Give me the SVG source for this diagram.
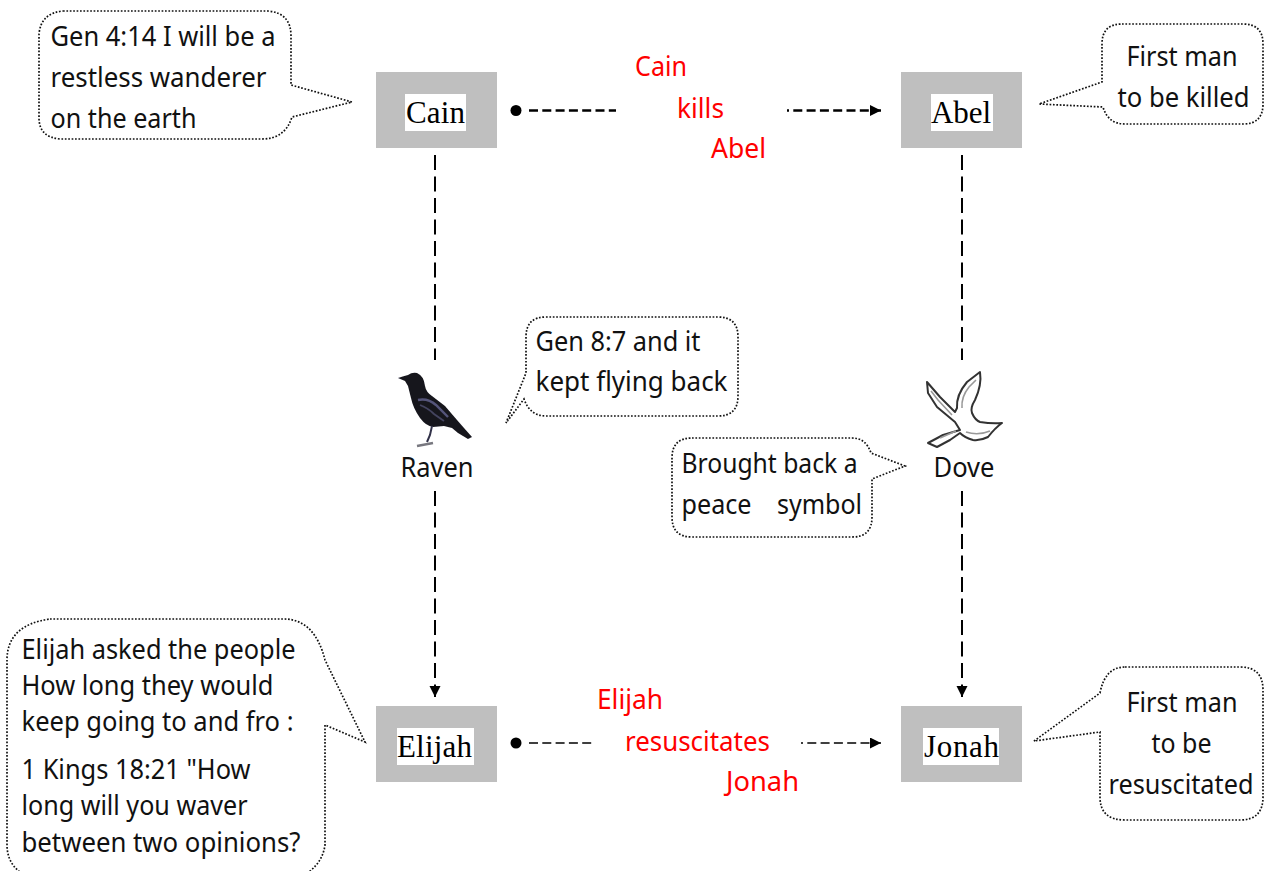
<svg xmlns="http://www.w3.org/2000/svg" width="1264" height="871" viewBox="0 0 1264 871">
<style>
.bg{fill:#fff}
.box{fill:#bfbfbf}
.lab{fill:#fff}
.ser{font-family:"Liberation Serif",serif;font-size:31px;fill:#000}
.t{font-family:"Noto Sans","Liberation Sans",sans-serif;font-size:27px;fill:#111}
.r{fill:#f00}
.bub{fill:#fff;stroke:#111;stroke-width:1.7;stroke-dasharray:1.7 1.7}
.c1{fill:none;stroke:#000;stroke-width:2.4;stroke-dasharray:9 4.3}
.c2{fill:none;stroke:#000;stroke-width:1.6;stroke-dasharray:9 4.3}
.cv{fill:none;stroke:#000;stroke-width:2;stroke-dasharray:15 6.5}
</style>
<defs>
<marker id="a" markerUnits="userSpaceOnUse" markerWidth="12" markerHeight="12" refX="11" refY="5.5" orient="auto"><path d="M0 0L11 5.5L0 11Z" fill="#000"/></marker>
<filter id="soft" x="-10%" y="-10%" width="120%" height="120%"><feGaussianBlur stdDeviation="0.5"/></filter>
</defs>
<rect class="bg" width="1264" height="871"/>
<g id="connectors">
<circle cx="516" cy="110.5" r="5.5"/>
<path class="c1" d="M529 110.5H616"/>
<path class="c1" d="M787 110.5H881" marker-end="url(#a)" stroke-dashoffset="7"/>
<circle cx="516" cy="743" r="5.5"/>
<path class="c2" d="M529 743H593"/>
<path class="c2" d="M801 743H881" marker-end="url(#a)" stroke-dashoffset="7"/>
<path class="cv" d="M435 155V360"/>
<path class="cv" d="M435 491V697" marker-end="url(#a)"/>
<path class="cv" d="M962 155V360"/>
<path class="cv" d="M962 491V697" marker-end="url(#a)"/>
</g>
<g id="cain"><rect class="box" x="376" y="72" width="121" height="76"/><rect class="lab" x="405" y="94" width="61" height="37"/><text class="ser" x="406" y="123" textLength="59">Cain</text></g>
<g id="abel"><rect class="box" x="901" y="72" width="121" height="76"/><rect class="lab" x="931" y="94" width="62" height="37"/><text class="ser" x="931" y="123" textLength="60">Abel</text></g>
<g id="elijah"><rect class="box" x="376" y="706" width="121" height="76"/><rect class="lab" x="397" y="728" width="77" height="37"/><text class="ser" x="397" y="757" textLength="75">Elijah</text></g>
<g id="jonah"><rect class="box" x="901" y="706" width="121" height="76"/><rect class="lab" x="923" y="728" width="76" height="37"/><text class="ser" x="924" y="757" textLength="75">Jonah</text></g>
<g id="raven">
<g filter="url(#soft)">
<path fill="#17171f" d="M398 378Q404 376 408 375Q412 372 417 373Q424 376 425 386Q426 392 432 396L445 406L457 420L464 428L472 437L468 439L458 433L452 428L444 426L433 427Q426 426 420 418Q413 408 411 398L408 386L405 381Z"/>
<path fill="none" stroke="#55557a" stroke-width="2.4" d="M418 400Q428 398 436 405L448 417"/>
<path fill="none" stroke="#44445f" stroke-width="1.8" d="M420 405Q428 408 434 414L444 421"/>
<path fill="none" stroke="#33334a" stroke-width="2" d="M432 426L430 435L427 442"/>
<path fill="none" stroke="#77777f" stroke-width="2.4" d="M417 446L433 443"/>
</g>
<text class="t" x="400.500" y="476.500" textLength="73" lengthAdjust="spacingAndGlyphs">Raven</text>
</g>
<g id="dove">
<g filter="url(#soft)">
<path fill="#fff" stroke="#333" stroke-width="2" stroke-linejoin="round" d="M957 408Q956 395 967 382L980 372Q982 385 975 400Q970 408 972 413Q975 420 980 422Q992 424 1002 423Q995 428 988 437Q980 441 973 440Q965 438 960 433L950 440L937 447L928 443L943 435L960 430L955 422L937 407L928 393L927 382L940 397L955 412Z"/>
<path fill="none" stroke="#999" stroke-width="1.6" d="M962 408Q961 397 969 387L976 380M952 415L938 400L931 391M956 431L940 438M966 432Q978 436 990 431"/>
</g>
<text class="t" x="933.500" y="476.500" textLength="61" lengthAdjust="spacingAndGlyphs">Dove</text>
</g>
<g id="note-cain">
<path class="bub" d="M63 11H268Q291 13 291 36V85L352 102L292 117Q285 139 262 139H60Q39 137 39 118V34Q41 13 63 11Z"/>
<text class="t" x="50.500" y="46" textLength="225" lengthAdjust="spacingAndGlyphs">Gen 4:14 I will be a</text>
<text class="t" x="50.500" y="87" textLength="216" lengthAdjust="spacingAndGlyphs">restless wanderer</text>
<text class="t" x="50.500" y="128" textLength="146" lengthAdjust="spacingAndGlyphs">on the earth</text>
</g>
<g id="note-abel">
<path class="bub" d="M1122 24H1243Q1263 24 1263 44V104Q1263 124 1243 124H1125Q1108 124 1103 107L1039 104L1102 82V44Q1102 24 1122 24Z"/>
<text class="t" x="1126.500" y="65.500" textLength="111" lengthAdjust="spacingAndGlyphs">First man</text>
<text class="t" x="1117.500" y="106.500" textLength="132" lengthAdjust="spacingAndGlyphs">to be killed</text>
</g>
<g id="note-raven">
<path class="bub" d="M546 317H718Q738 317 738 337V396Q738 416 718 416H546Q530 416 524 399L506 423L526 373V337Q526 317 546 317Z"/>
<text class="t" x="535.500" y="350.500" textLength="165" lengthAdjust="spacingAndGlyphs">Gen 8:7 and it</text>
<text class="t" x="535.500" y="390.500" textLength="192" lengthAdjust="spacingAndGlyphs">kept flying back</text>
</g>
<g id="note-dove">
<path class="bub" d="M692 438H852Q866 438 871 453L905 466L872 479V517Q872 537 852 537H692Q672 537 672 517V458Q672 438 692 438Z"/>
<text class="t" x="681.500" y="472.500" textLength="176" lengthAdjust="spacingAndGlyphs">Brought back a</text>
<text class="t" x="681.500" y="513.500" textLength="70" lengthAdjust="spacingAndGlyphs">peace</text>
<text class="t" x="777" y="513.500" textLength="85" lengthAdjust="spacingAndGlyphs">symbol</text>
</g>
<g id="note-elijah">
<path class="bub" d="M50 619H285Q315 620 325 660L365 742L325 725V845Q322 868 295 880H35Q7 870 7 845V660Q7 625 50 619Z"/>
<text class="t" x="21.500" y="658.500" textLength="274" lengthAdjust="spacingAndGlyphs">Elijah asked the people</text>
<text class="t" x="21.500" y="694.500" textLength="252" lengthAdjust="spacingAndGlyphs">How long they would</text>
<text class="t" x="21.500" y="730.500" textLength="272" lengthAdjust="spacingAndGlyphs">keep going to and fro :</text>
<text class="t" x="21.500" y="778.500" textLength="229" lengthAdjust="spacingAndGlyphs">1 Kings 18:21 "How</text>
<text class="t" x="21.500" y="815" textLength="226" lengthAdjust="spacingAndGlyphs">long will you waver</text>
<text class="t" x="21.500" y="852" textLength="279" lengthAdjust="spacingAndGlyphs">between two opinions?</text>
</g>
<g id="note-jonah">
<path class="bub" d="M1125 667H1240Q1263 667 1263 690V797Q1263 820 1240 820H1125Q1100 820 1100 797V732L1034 741L1100 693Q1105 667 1125 667Z"/>
<text class="t" x="1126.500" y="711.500" textLength="111" lengthAdjust="spacingAndGlyphs">First man</text>
<text class="t" x="1151.500" y="753" textLength="60" lengthAdjust="spacingAndGlyphs">to be</text>
<text class="t" x="1108.500" y="793.500" textLength="145" lengthAdjust="spacingAndGlyphs">resuscitated</text>
</g>
<g id="label-top">
<text class="t r" x="635" y="76" textLength="52" lengthAdjust="spacingAndGlyphs">Cain</text>
<text class="t r" x="677" y="118" textLength="47" lengthAdjust="spacingAndGlyphs">kills</text>
<text class="t r" x="711" y="158" textLength="55" lengthAdjust="spacingAndGlyphs">Abel</text>
</g>
<g id="label-bottom">
<text class="t r" x="597" y="709" textLength="66" lengthAdjust="spacingAndGlyphs">Elijah</text>
<text class="t r" x="625" y="751" textLength="145" lengthAdjust="spacingAndGlyphs">resuscitates</text>
<text class="t r" x="726" y="791" textLength="73" lengthAdjust="spacingAndGlyphs">Jonah</text>
</g>
</svg>
